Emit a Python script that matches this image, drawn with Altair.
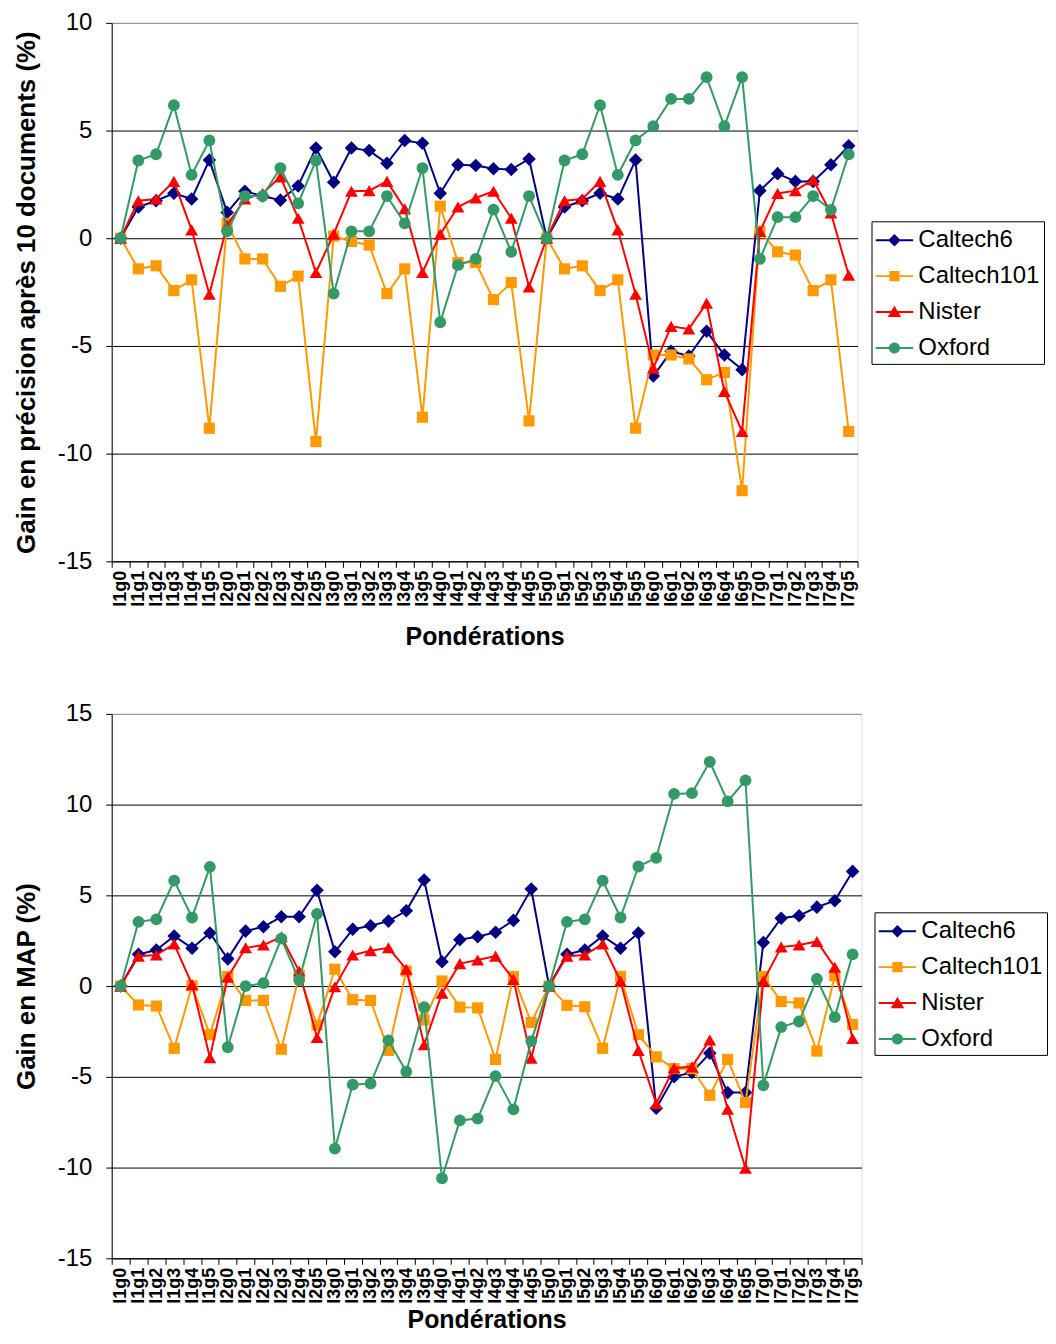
import altair as alt
import pandas as pd

categories = [
    "l1g0", "l1g1", "l1g2", "l1g3", "l1g4", "l1g5",
    "l2g0", "l2g1", "l2g2", "l2g3", "l2g4", "l2g5",
    "l3g0", "l3g1", "l3g2", "l3g3", "l3g4", "l3g5",
    "l4g0", "l4g1", "l4g2", "l4g3", "l4g4", "l4g5",
    "l5g0", "l5g1", "l5g2", "l5g3", "l5g4", "l5g5",
    "l6g0", "l6g1", "l6g2", "l6g3", "l6g4", "l6g5",
    "l7g0", "l7g1", "l7g2", "l7g3", "l7g4", "l7g5",
]

series_names = ["Caltech6", "Caltech101", "Nister", "Oxford"]

# Gain en précision après 10 documents (%)
p10_caltech6 = [0, 1.45, 1.74, 2.09, 1.82, 3.63, 1.2, 2.18, 1.96, 1.77, 2.43, 4.19,
                2.6, 4.19, 4.07, 3.48, 4.54, 4.41, 2.09, 3.41, 3.38, 3.23, 3.19, 3.68,
                0, 1.45, 1.74, 2.09, 1.82, 3.63, -6.4, -5.25, -5.47, -4.32, -5.42, -6.1,
                2.21, 3.0, 2.64, 2.64, 3.41, 4.29]
p10_caltech101 = [0, -1.42, -1.28, -2.43, -1.93, -8.82, 0.69, -0.96, -0.96, -2.23, -1.76, -9.44,
                  0.1, -0.15, -0.32, -2.57, -1.42, -8.31, 1.49, -1.13, -1.13, -2.85, -2.06, -8.48,
                  0, -1.42, -1.28, -2.43, -1.93, -8.82, -5.42, -5.42, -5.6, -6.57, -6.23, -11.72,
                  0.32, -0.63, -0.78, -2.43, -1.93, -8.97]
p10_nister = [0, 1.74, 1.82, 2.64, 0.39, -2.6, 0.61, 1.82, 2.08, 2.85, 0.93, -1.59,
              0.19, 2.18, 2.21, 2.64, 1.37, -1.59, 0.19, 1.45, 1.87, 2.18, 0.93, -2.26,
              0, 1.74, 1.82, 2.64, 0.39, -2.6, -6.03, -4.09, -4.21, -3.02, -7.11, -8.97,
              0.32, 2.08, 2.21, 2.72, 1.17, -1.71]
p10_oxford = [0, 3.61, 3.9, 6.18, 2.94, 4.54, 0.32, 1.96, 1.96, 3.26, 1.62, 3.61,
              -2.57, 0.32, 0.32, 1.96, 0.69, 3.26, -3.9, -1.25, -0.96, 1.33, -0.63, 1.96,
              0, 3.61, 3.9, 6.18, 2.94, 4.54, 5.2, 6.47, 6.47, 7.48, 5.2, 7.48,
              -0.96, 0.98, 0.98, 1.96, 1.32, 3.9]

# Gain en MAP (%)
map_caltech6 = [0, 1.75, 1.99, 2.76, 2.09, 2.93, 1.5, 3.03, 3.27, 3.82, 3.82, 5.28,
                1.89, 3.13, 3.33, 3.58, 4.15, 5.85, 1.34, 2.56, 2.72, 2.97, 3.62, 5.35,
                0, 1.75, 1.99, 2.76, 2.09, 2.93, -6.73, -5.0, -4.76, -3.7, -5.87, -5.87,
                2.4, 3.74, 3.88, 4.35, 4.7, 6.32]
map_caltech101 = [0, -1.04, -1.1, -3.43, 0.02, -2.68, 0.53, -0.79, -0.79, -3.48, 0.6, -2.15,
                  0.93, -0.75, -0.79, -3.54, 0.83, -1.87, 0.28, -1.16, -1.2, -4.04, 0.53, -2.01,
                  0, -1.06, -1.14, -3.43, 0.53, -2.68, -3.9, -4.55, -4.55, -6.02, -4.04, -6.42,
                  0.53, -0.85, -0.93, -3.58, 0.57, -2.11]
map_nister = [0, 1.65, 1.71, 2.32, 0.08, -3.94, 0.49, 2.11, 2.26, 2.72, 0.83, -2.83,
              -0.04, 1.71, 1.95, 2.11, 0.93, -3.23, -0.39, 1.24, 1.44, 1.65, 0.37, -3.98,
              0, 1.65, 1.71, 2.32, 0.28, -3.54, -6.48, -4.51, -4.45, -2.97, -6.79, -10.04,
              0.28, 2.15, 2.26, 2.46, 1.04, -2.89]
map_oxford = [0, 3.54, 3.68, 5.81, 3.78, 6.57, -3.37, 0, 0.16, 2.62, 0.33, 3.98,
              -8.96, -5.43, -5.37, -2.99, -4.72, -1.16, -10.59, -7.4, -7.3, -4.96, -6.79, -3.03,
              0, 3.54, 3.68, 5.81, 3.78, 6.59, 7.07, 10.59, 10.63, 12.36, 10.18, 11.34,
              -5.47, -2.26, -1.95, 0.39, -1.71, 1.75]

y_ticks_top = [-15, -10, -5, 0, 5, 10]
y_ticks_bottom = [-15, -10, -5, 0, 5, 10, 15]

# styles
series_colors = ["#000080", "#FF9900", "#FF0000", "#339966"]
marker_shapes = ["diamond", "square", "triangle-up", "circle"]
marker_sizes = [185, 125, 165, 140]
LINE = "M-1.25,-0.065L1.25,-0.065L1.25,0.065L-1.25,0.065Z"
legend_paths = [
    LINE + "M0,-0.42L0.42,0L0,0.42L-0.42,0Z",
    LINE + "M-0.34,-0.34L0.34,-0.34L0.34,0.34L-0.34,0.34Z",
    LINE + "M0,-0.42L0.45,0.34L-0.45,0.34Z",
    LINE + "M-0.37,0A0.37,0.37 0 1,1 0.37,0A0.37,0.37 0 1,1 -0.37,0Z",
]
FONT = "Liberation Sans"


def long_table(values_by_series):
    rows = []
    for name, vals in zip(series_names, values_by_series):
        for c, v in zip(categories, vals):
            rows.append({"cat": c, "series": name, "value": v})
    return pd.DataFrame(rows)


def panel(df, y_title, y_domain, y_values, w, h, lx, ly, x_title_pad):
    top_val = y_domain[1]
    x_enc = alt.X(
        "cat:N", sort=categories,
        scale=alt.Scale(type="band", paddingInner=0, paddingOuter=0),
        axis=alt.Axis(
            title="Pondérations", labelAngle=270, labelFont=FONT, labelFontSize=18,
            labelFontWeight="bold", labelColor="black", labelPadding=3,
            tickBand="extent", tickColor="black", tickSize=6, domainColor="black",
            titleFont=FONT, titleFontSize=25, titleFontWeight="bold", titleColor="black",
            titlePadding=x_title_pad, grid=False, labelOverlap=False,
        ),
    )
    y_enc = alt.Y(
        "value:Q",
        scale=alt.Scale(domain=y_domain, nice=False, zero=False),
        axis=alt.Axis(
            title=y_title, values=y_values, labelExpr="'' + datum.value",
            labelFont=FONT, labelFontSize=24,
            labelColor="black", labelPadding=14, tickColor="black", tickSize=6,
            domainColor="black", titleFont=FONT, titleFontSize=26, titleFontWeight="bold",
            titleColor="black", titlePadding=18, grid=True,
            gridColor={"condition": {"test": f"datum.value === {top_val}", "value": "#8c8c8c"},
                       "value": "black"},
            gridWidth=1,
        ),
    )
    base = alt.Chart(df).encode(x=x_enc, y=y_enc)
    layers = []
    for name, col, shp, sz in zip(series_names, series_colors, marker_shapes, marker_sizes):
        sub = base.transform_filter(alt.datum.series == name)
        layers.append(sub.mark_line(strokeWidth=2, color=col))
        layers.append(sub.mark_point(filled=True, shape=shp, size=sz, opacity=1, color=col))

    leg = alt.Legend(
        title=None, orient="none", legendX=lx, legendY=ly,
        strokeColor="black", fillColor="white", padding=4,
        labelFont=FONT, labelFontSize=24, labelColor="black", labelOffset=9,
        symbolSize=900, symbolOffset=4, symbolOpacity=1, symbolStrokeWidth=0,
        rowPadding=9,
    )
    legend_layer = alt.Chart(df).transform_filter("false").mark_point(filled=True).encode(
        x=x_enc, y=y_enc,
        color=alt.Color("series:N", scale=alt.Scale(domain=series_names, range=series_colors),
                        legend=leg),
        shape=alt.Shape("series:N", scale=alt.Scale(domain=series_names, range=legend_paths),
                        legend=leg),
    )
    return alt.layer(*layers, legend_layer).properties(width=w, height=h)


top = panel(long_table([p10_caltech6, p10_caltech101, p10_nister, p10_oxford]),
            "Gain en précision après 10 documents (%)", [-15, 10], y_ticks_top,
            748, 540, 762, 199, 18)
bottom = panel(long_table([map_caltech6, map_caltech101, map_nister, map_oxford]),
               "Gain en MAP (%)", [-15, 15], y_ticks_bottom,
               752, 546, 765, 199, 4)

chart = alt.vconcat(top, bottom, spacing=51).resolve_scale(
    color="independent", shape="independent"
).resolve_legend(color="independent", shape="independent").properties(
    padding={"left": 4, "top": 0, "right": 0, "bottom": 0}
).configure_view(stroke="#8c8c8c", strokeWidth=1).configure(background="white")

chart.save("out.html", embed_options={"renderer": "svg", "actions": False})
